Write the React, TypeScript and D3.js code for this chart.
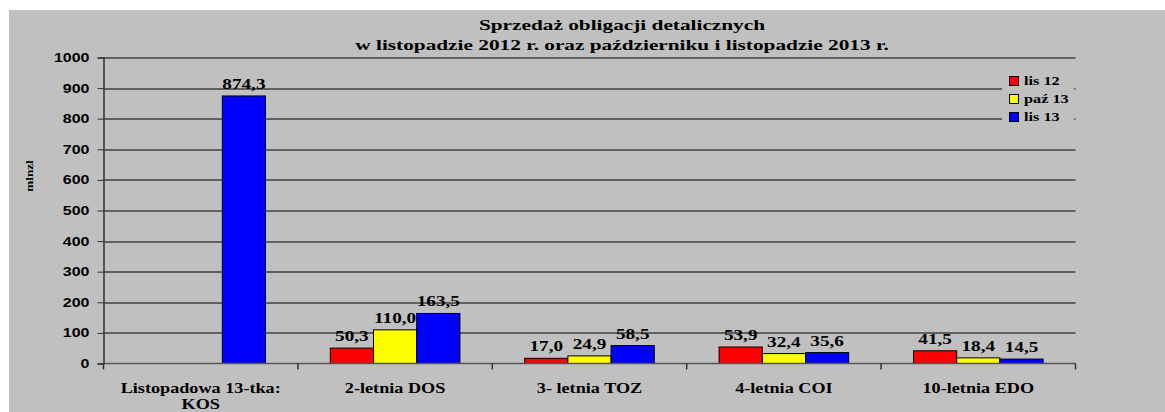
import { useEffect, useRef } from 'react';
import * as d3 from 'd3';

const categories = ['Listopadowa 13-tka:|KOS', '2-letnia DOS', '3- letnia TOZ', '4-letnia COI', '10-letnia EDO'];
const seriesNames = ['lis 12', 'paź 13', 'lis 13'];
const seriesColors = ['#ff0000', '#ffff00', '#0000ff'];
const lis12 = [null, 50.3, 17.0, 53.9, 41.5];
const paz13 = [null, 110.0, 24.9, 32.4, 18.4];
const lis13 = [874.3, 163.5, 58.5, 35.6, 14.5];
const yTicks = [0, 100, 200, 300, 400, 500, 600, 700, 800, 900, 1000];

const W = 1165;
const H = 412;
const SERIF = '"Liberation Serif", "Times New Roman", serif';
const SANS = '"Liberation Sans", Arial, sans-serif';

// tekst rozciągnięty w poziomie jak w oryginale
const stretched = (parent: any, x: number, y: number, txt: string, size: number, sx: number, anchor = 'middle', font = SERIF) =>
  parent
    .append('text')
    .attr('transform', `translate(${x},${y}) scale(${sx},1)`)
    .attr('text-anchor', anchor)
    .attr('font-family', font)
    .attr('font-weight', 'bold')
    .attr('font-size', size)
    .attr('fill', '#000')
    .text(txt);

export default function App() {
  const svgRef = useRef<SVGSVGElement>(null);

  useEffect(() => {
    if (!svgRef.current) return;
    const svg = d3.select(svgRef.current);
    svg.selectAll('*').remove();

    const margin = { top: 57.5, right: 89.5, bottom: 48.5, left: 103.5 };
    const innerW = W - margin.left - margin.right;
    const innerH = H - margin.top - margin.bottom;

    // szare tło wykresu
    svg.append('rect').attr('x', 9).attr('y', 10).attr('width', W - 9).attr('height', H - 10).attr('fill', '#c0c0c0');

    stretched(svg, 622, 30, 'Sprzedaż obligacji detalicznych', 15, 1.42);
    stretched(svg, 622, 50, 'w listopadzie 2012 r. oraz październiku i listopadzie 2013 r.', 15, 1.42);

    const g = svg.append('g').attr('transform', `translate(${margin.left},${margin.top})`);

    const x0 = d3.scaleBand().domain(categories).range([0, innerW]);
    const x1 = d3.scaleBand().domain(seriesNames).range([0, x0.bandwidth()]).paddingOuter(0.75).paddingInner(0);
    const y = d3.scaleLinear().domain([0, 1000]).range([innerH, 0]);

    // linie siatki
    g.append('g')
      .selectAll('line')
      .data(yTicks.filter((t) => t > 0))
      .join('line')
      .attr('x1', 0)
      .attr('x2', innerW)
      .attr('y1', (d) => Math.round(y(d)) + 0.5)
      .attr('y2', (d) => Math.round(y(d)) + 0.5)
      .attr('stroke', '#000')
      .attr('stroke-width', 1);

    // oś Y
    const yAxis = g.append('g').call(d3.axisLeft(y).tickValues(yTicks).tickSize(6).tickFormat(() => ''));
    yAxis.select('.domain').attr('stroke', '#333').attr('stroke-width', 1.5);
    yAxis.selectAll('.tick line').attr('stroke', '#333');
    yTicks.forEach((t) => {
      stretched(g, -14, y(t) + 4.5, String(t), 12.5, 1.28, 'end', SANS);
    });

    // słupki
    const series = [lis12, paz13, lis13];
    series.forEach((vals, si) => {
      categories.forEach((cat, ci) => {
        const v = vals[ci];
        if (v == null) return;
        const bx = x0(cat)! + x1(seriesNames[si])!;
        g.append('rect')
          .attr('x', bx)
          .attr('y', y(v))
          .attr('width', x1.bandwidth())
          .attr('height', y(0) - y(v))
          .attr('fill', seriesColors[si])
          .attr('stroke', '#000')
          .attr('stroke-width', 1);
        stretched(g, bx + x1.bandwidth() / 2, y(v) - 7, d3.format('.1f')(v).replace('.', ','), 15, 1.28);
      });
    });

    // oś X
    g.append('line')
      .attr('x1', 0).attr('x2', innerW)
      .attr('y1', innerH).attr('y2', innerH)
      .attr('stroke', '#555').attr('stroke-width', 1.5);
    g.append('g')
      .selectAll('line')
      .data(d3.range(categories.length + 1))
      .join('line')
      .attr('x1', (i) => i * x0.step())
      .attr('x2', (i) => i * x0.step())
      .attr('y1', innerH)
      .attr('y2', innerH + 6)
      .attr('stroke', '#333')
      .attr('stroke-width', 1.5);

    categories.forEach((cat) => {
      cat.split('|').forEach((line, li) => {
        stretched(g, x0(cat)! + x0.bandwidth() / 2, innerH + 29 + li * 16.5, line, 14, 1.3);
      });
    });

    // etykieta osi Y
    svg.append('text')
      .attr('transform', 'translate(33,176) rotate(-90) scale(1.2,1)')
      .attr('text-anchor', 'middle')
      .attr('font-family', SERIF)
      .attr('font-weight', 'bold')
      .attr('font-size', 11)
      .text('mlnzł');

    // legenda
    const legend = svg.append('g').attr('transform', 'translate(1002,68)');
    legend.append('rect').attr('x', 0).attr('y', 0).attr('width', 72).attr('height', 60).attr('fill', '#c0c0c0');
    seriesNames.forEach((name, i) => {
      legend.append('rect')
        .attr('x', 7.5).attr('y', 8.5 + i * 18)
        .attr('width', 9).attr('height', 9)
        .attr('fill', seriesColors[i]).attr('stroke', '#000');
      stretched(legend, 22, 17 + i * 18, name, 13, 1.25, 'start');
    });
  }, []);

  return <svg ref={svgRef} width={W} height={H} style={{ position: 'absolute', left: 0, top: 0, background: '#fff' }} />;
}
